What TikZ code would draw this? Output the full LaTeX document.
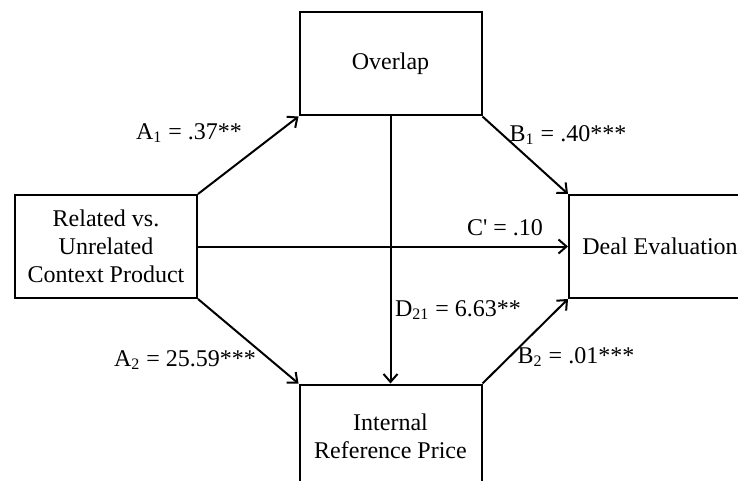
\documentclass[tikz,border=0pt]{standalone}
\usepackage{fontspec}
\setmainfont{Liberation Serif}
\usetikzlibrary{positioning,arrows.meta}
\tikzset{
  med-box/.style={
    draw=black, line width=1pt, fill=white, align=center,
    font=\fontsize{12}{14}\selectfont,
    minimum width=91pt, minimum height=51.5pt, inner sep=2pt
  },
  med-flow/.style={-{Straight Barb[length=4pt,width=7pt]}, line width=1pt},
  med-coef/.style={font=\fontsize{12}{14}\selectfont, inner sep=1pt}
}
\begin{document}
\begin{tikzpicture}[x=0.5pt, y=-0.5pt]
\clip (0,0) rectangle (738,481);
\fill[white] (0,0) rectangle (738,481);

% boxes
\node[med-box] (ctx) at (106,246.5) {Related vs.\\ Unrelated\\ Context Product};
\node[med-box] (over) at (390.5,64) {Overlap};
\node[med-box] (deal) at (660,246.5) {Deal Evaluation};
\node[med-box] (irp) at (390.5,436) {Internal\\ Reference Price};

% paths
\draw[med-flow] (ctx.north east) -- (over.south west);
\draw[med-flow] (over.south east) -- (deal.north west);
\draw[med-flow] (ctx.east) -- (deal.west);
\draw[med-flow] (over.south) -- (irp.north);
\draw[med-flow] (ctx.south east) -- (irp.north west);
\draw[med-flow] (irp.north east) -- (deal.south west);

% coefficients
\node[med-coef] (a1) at (189,133) {A\textsubscript{1} = .37**};
\node[med-coef] (b1) at (568,135) {B\textsubscript{1} = .40***};
\node[med-coef] (c1) at (505,228) {C\textquotesingle{} = .10};
\node[med-coef] (d21) at (458,310) {D\textsubscript{21} = 6.63**};
\node[med-coef] (a2) at (185,360) {A\textsubscript{2} = 25.59***};
\node[med-coef] (b2) at (576,357) {B\textsubscript{2} = .01***};
\end{tikzpicture}
\end{document}
